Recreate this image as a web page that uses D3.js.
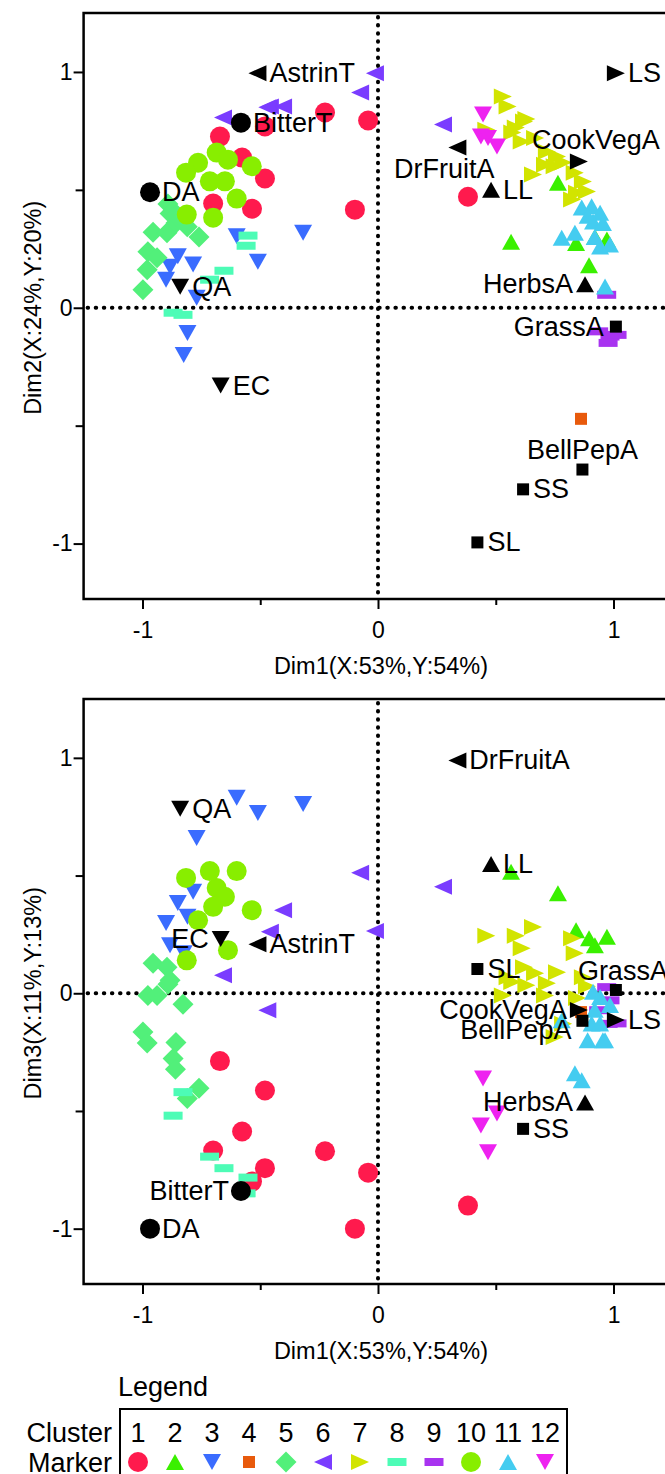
<!DOCTYPE html>
<html lang="en">
<head>
<meta charset="utf-8">
<title>D3: cluster map</title>
<script src="https://cdn.jsdelivr.net/npm/d3@7"></script>
<style>
  body{margin:0;background:#fff;}
  text{font-family:"Liberation Sans",Arial,sans-serif;fill:#000;}
</style>
</head>
<body>
<script>
// clusters, colours and marker shapes
var clusters = [1,2,3,4,5,6,7,8,9,10,11,12];
var clusterColors = ["#ff1a4d","#3af000","#3a6cff","#e85a0c","#52f07a","#7a3cff",
                     "#d2e400","#4dfcb6","#a833f0","#88ee00","#44ccf0","#ee22f0"];
var clusterShapes = ["circle","triUp","triDown","square","diamond","triLeft",
                     "triRight","bar","bar","circle","triUp","triDown"];

// points of each cluster: [Dim1, Dim2, Dim3]
var cluster1 = [[-0.225,0.828,-0.671],[-0.042,0.794,-0.762],[-0.671,0.726,-0.288],[-0.48,0.769,-0.413],
  [-0.577,0.637,-0.587],[-0.48,0.548,-0.743],[-0.70,0.442,-0.668],[-0.535,0.42,-0.80],
  [-0.098,0.416,-1.0],[0.382,0.471,-0.902]];
var cluster2 = [[0.764,0.53,0.425],[0.565,0.28,0.516],[0.841,0.275,0.268],[0.921,0.30,0.204],
  [0.972,0.29,0.24],[0.896,0.18,0.234]];
var cluster3 = [[-0.60,0.303,0.83],[-0.318,0.318,0.804],[-0.51,0.195,0.766],[-0.85,0.218,0.383],
  [-0.785,0.183,0.431],[-0.883,0.174,0.204],[-0.90,0.119,0.298],[-0.77,0.042,0.66],
  [-0.809,-0.107,0.325],[-0.825,-0.20,0.17]];
var cluster4 = [[0.862,-0.471,-0.08]];
var cluster5 = [[-0.998,0.076,-0.165],[-0.98,0.161,-0.211],[-0.977,0.238,-0.009],[-0.955,0.32,0.128],
  [-0.938,0.212,-0.009],[-0.896,0.318,0.11],[-0.892,0.44,0.038],[-0.883,0.40,0.055],
  [-0.87,0.41,-0.277],[-0.858,0.36,-0.209],[-0.86,0.39,-0.323],[-0.828,0.374,-0.047],
  [-0.81,0.344,-0.447],[-0.76,0.30,-0.404]];
var cluster6 = [[-0.658,0.807,0.077],[-0.459,0.853,0.261],[-0.47,0.85,-0.072],[-0.403,0.853,0.353],
  [-0.076,0.913,0.512],[-0.013,0.994,0.265],[0.276,0.777,0.452]];
var cluster7 = [[0.46,0.755,0.244],[0.53,0.896,-0.009],[0.55,0.854,0.068],[0.57,0.743,0.048],
  [0.585,0.764,0.244],[0.61,0.705,0.191],[0.62,0.79,0.111],[0.63,0.80,0.034],
  [0.658,0.565,0.281],[0.667,0.72,0.085],[0.709,0.607,-0.01],[0.717,0.662,0.043],
  [0.75,0.60,-0.186],[0.76,0.641,0.089],[0.786,0.616,-0.13],[0.824,0.459,0.234],
  [0.835,0.573,0.17],[0.845,0.488,-0.02],[0.87,0.535,0.068],[0.887,0.493,0.03]];
var cluster8 = [[-0.552,0.306,-0.783],[-0.56,0.263,-0.85],[-0.654,0.157,-0.743],[-0.715,0.119,-0.694],
  [-0.87,-0.021,-0.52],[-0.828,-0.03,-0.42]];
var cluster9 = [[0.971,0.055,0.026],[0.937,-0.10,-0.072],[0.985,-0.122,-0.03],[0.977,-0.149,-0.13],
  [1.015,-0.115,-0.128]];
var cluster10 = [[-0.685,0.658,0.447],[-0.637,0.628,0.183],[-0.764,0.615,0.31],[-0.815,0.573,0.49],
  [-0.536,0.60,0.353],[-0.714,0.536,0.519],[-0.65,0.536,0.41],[-0.60,0.463,0.519],
  [-0.812,0.395,0.14],[-0.70,0.382,0.367]];
var cluster11 = [[0.865,0.425,-0.37],[0.907,0.43,-0.128],[0.943,0.403,-0.016],[0.913,0.366,0.006],
  [0.955,0.36,-0.2],[0.78,0.297,-0.115],[0.836,0.318,-0.34],[0.943,0.26,-0.128],
  [0.985,0.268,-0.05],[0.964,0.09,-0.2],[0.89,0.39,-0.2],[0.92,0.30,-0.07]];
var cluster12 = [[0.446,0.82,-0.362],[0.437,0.726,-0.562],[0.467,0.72,-0.675],[0.505,0.684,-0.511]];
var clusterPoints = [cluster1,cluster2,cluster3,cluster4,cluster5,cluster6,
                     cluster7,cluster8,cluster9,cluster10,cluster11,cluster12];

// labelled (black) attributes
var labelNames   = ["AstrinT","BitterT","DA","QA","EC","LS","CookVegA","DrFruitA","LL","HerbsA","GrassA","BellPepA","SS","SL"];
var labelCluster = [6,1,1,3,3,7,7,6,2,2,4,4,4,4];
var labelDim1    = [-0.512,-0.582,-0.968,-0.84,-0.668,1.01,0.853,0.337,0.48,0.879,1.01,0.868,0.616,0.422];
var labelDim2    = [0.995,0.785,0.49,0.089,-0.33,0.995,0.62,0.68,0.50,0.10,-0.08,-0.686,-0.77,-0.995];
var labelDim3    = [0.208,-0.84,-1.0,0.784,0.231,-0.114,-0.071,0.989,0.549,-0.464,0.014,-0.117,-0.576,0.103];
// where the name sits next to its marker in each panel
var labelSideDim2 = ["r","r","r","r","r","r","above","below","r","l","l","above","r","r"];
var labelSideDim3 = ["r","l","r","r","l","r","l","r","r","l","aboveLeft","lowLeft","r","r"];

var tickValues = [-1,-0.5,0,0.5,1];
var tickLabels = ["-1","","0","","1"];
var xTitle = "Dim1(X:53%,Y:54%)";
var yTitles = ["Dim2(X:24%,Y:20%)","Dim3(X:11%,Y:13%)"];

var W = 665, H = 1474;
var svg = d3.select("body").append("svg").attr("width",W).attr("height",H);

function shapePath(shape){
  switch(shape){
    case "circle":   return d3.symbol(d3.symbolCircle, Math.PI*10*10)();
    case "triUp":    return "M0,-8L9,8L-9,8Z";
    case "triDown":  return "M0,8L9,-8L-9,-8Z";
    case "triLeft":  return "M-9,0L9,-8L9,8Z";
    case "triRight": return "M9,0L-9,-8L-9,8Z";
    case "square":   return "M-6,-6h12v12h-12Z";
    case "diamond":  return "M0,-10.5L10.5,0L0,10.5L-10.5,0Z";
    case "bar":      return "M-9.5,-4h19v8h-19Z";
  }
}

var x = d3.scaleLinear().domain([-1.25,1.25]).range([83.6,672.4]);

var panels = [
  {dim:1, top:13,  bottom:599,  title:yTitles[0], sides:labelSideDim2, vals:labelDim2},
  {dim:2, top:699, bottom:1284, title:yTitles[1], sides:labelSideDim3, vals:labelDim3}
];

var place = {
  r:        {dx:12,  dy:9,  a:"start"},
  l:        {dx:-12, dy:9,  a:"end"},
  above:    {dx:0,   dy:-13, a:"middle"},
  below:    {dx:-13, dy:31, a:"middle"},
  aboveLeft:{dx:-38, dy:-10, a:"start"},
  lowLeft:  {dx:-11, dy:18, a:"end"}
};

panels.forEach(function(p){
  var y = d3.scaleLinear().domain([-1.235,1.25]).range([p.bottom,p.top]);
  var g = svg.append("g");

  // dotted zero lines
  g.append("line").attr("x1",x(0)).attr("x2",x(0)).attr("y1",p.top+4).attr("y2",p.bottom-3)
    .attr("stroke","#000").attr("stroke-width",4).attr("stroke-linecap","round").attr("stroke-dasharray","0.5,7.6");
  g.append("line").attr("x1",x(-1.25)+4).attr("x2",W).attr("y1",y(0)).attr("y2",y(0))
    .attr("stroke","#000").attr("stroke-width",4).attr("stroke-linecap","round").attr("stroke-dasharray","0.5,7.6");

  // cluster points
  clusterPoints.forEach(function(pts,i){
    g.append("g").selectAll("path")
      .data(pts).enter().append("path")
      .attr("d", shapePath(clusterShapes[i]))
      .attr("transform", function(d){ return "translate(" + x(d[0]) + "," + y(d[p.dim]) + ")"; })
      .attr("fill", clusterColors[i]);
  });

  // labelled attributes
  labelNames.forEach(function(name,i){
    var px = x(labelDim1[i]), py = y(p.vals[i]);
    g.append("path").attr("d", shapePath(clusterShapes[labelCluster[i]-1]))
      .attr("transform","translate(" + px + "," + py + ")").attr("fill","#000");
    var s = place[p.sides[i]];
    var dx = s.dx;
    if (p.sides[i] === "above" && name === "CookVegA") dx = 17;
    if (p.sides[i] === "above" && name === "BellPepA") dx = 0;
    if (p.sides[i] === "above" && name === "BellPepA") s = {dx:0, dy:-11, a:"middle"};
    if (labelCluster[i] === 4 && p.sides[i] === "r") dx = 10;
    g.append("text").attr("x", px + dx).attr("y", py + s.dy)
      .attr("text-anchor", s.a).attr("font-size",27).text(name);
  });

  // frame
  g.append("rect").attr("x",x(-1.25)).attr("y",p.top)
    .attr("width",x(1.25)-x(-1.25)).attr("height",p.bottom-p.top)
    .attr("fill","none").attr("stroke","#000").attr("stroke-width",2.5);

  // x axis
  var xa = g.append("g").attr("transform","translate(0," + p.bottom + ")")
    .call(d3.axisBottom(x).tickValues(tickValues).tickFormat(function(d,i){ return tickLabels[i]; })
      .tickSize(10).tickSizeOuter(0).tickPadding(13));
  xa.select(".domain").remove();
  xa.selectAll(".tick line").attr("stroke-width",2);
  xa.selectAll(".tick").filter(function(d){ return d % 1 !== 0; }).select("line").attr("y2",6);
  xa.selectAll("text").attr("font-size",23).attr("font-family","Liberation Sans, Arial, sans-serif");

  // y axis
  var ya = g.append("g").attr("transform","translate(" + x(-1.25) + ",0)")
    .call(d3.axisLeft(y).tickValues(tickValues).tickFormat(function(d,i){ return tickLabels[i]; })
      .tickSize(10).tickSizeOuter(0).tickPadding(1));
  ya.select(".domain").remove();
  ya.selectAll(".tick line").attr("stroke-width",2);
  ya.selectAll(".tick").filter(function(d){ return d % 1 !== 0; }).select("line").attr("x2",-8);
  ya.selectAll("text").attr("font-size",23).attr("font-family","Liberation Sans, Arial, sans-serif");

  // axis titles
  g.append("text").attr("x",x(0)+3).attr("y",p.bottom+75).attr("text-anchor","middle")
    .attr("font-size",23.5).text(xTitle);
  g.append("text").attr("transform","translate(41," + y(0) + ") rotate(-90)")
    .attr("text-anchor","middle").attr("font-size",23.5).text(p.title);
});

// legend
var lx = d3.scalePoint().domain(clusters).range([138,545]);
svg.append("text").attr("x",118).attr("y",1396).attr("font-size",27).text("Legend");
svg.append("rect").attr("x",120).attr("y",1409).attr("width",447).attr("height",90)
  .attr("fill","none").attr("stroke","#000").attr("stroke-width",2);
svg.append("text").attr("x",112).attr("y",1442).attr("text-anchor","end").attr("font-size",27).text("Cluster");
svg.append("text").attr("x",112).attr("y",1472).attr("text-anchor","end").attr("font-size",27).text("Marker");
svg.append("g").selectAll("text").data(clusters).enter().append("text")
  .attr("x",function(d){ return lx(d); }).attr("y",1442).attr("text-anchor","middle")
  .attr("font-size",27).text(function(d){ return d; });
svg.append("g").selectAll("path").data(clusters).enter().append("path")
  .attr("d",function(d,i){ return shapePath(clusterShapes[i]); })
  .attr("transform",function(d){ return "translate(" + lx(d) + ",1462)"; })
  .attr("fill",function(d,i){ return clusterColors[i]; });
</script>
</body>
</html>
